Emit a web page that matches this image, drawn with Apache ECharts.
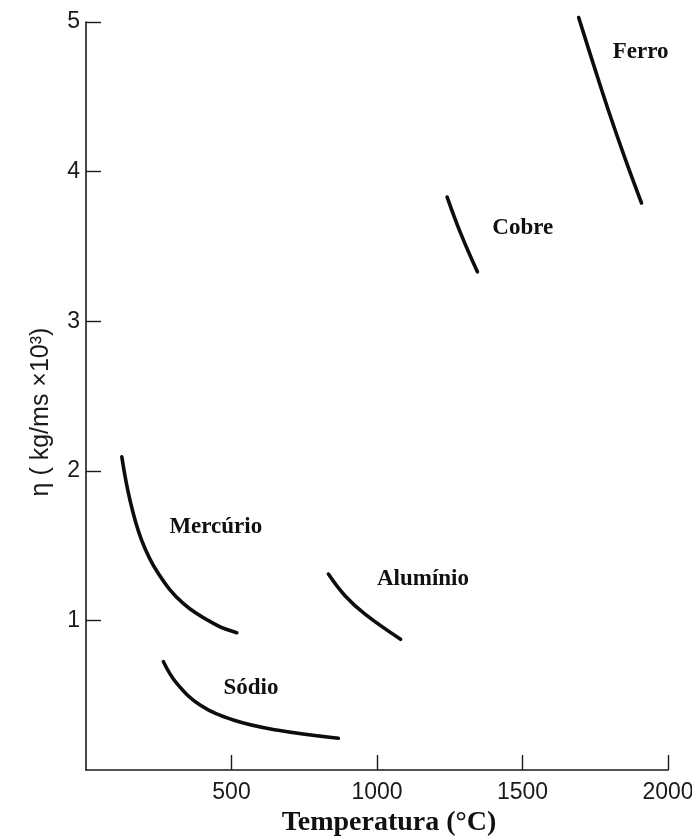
<!DOCTYPE html>
<html>
<head>
<meta charset="utf-8">
<script src="https://cdn.jsdelivr.net/npm/echarts@6/dist/echarts.min.js"></script>
<style>
  html, body { margin: 0; padding: 0; background: #fff; }
  #chart { width: 692px; height: 840px; }
</style>
</head>
<body>
<div id="chart"></div>
<script>
// Viscosity of liquid metals vs temperature
const xTicks = [500, 1000, 1500, 2000];
const yTicks = [1, 2, 3, 4, 5];

const ferroT = [1693, 1745, 1795, 1852, 1909];
const ferroEta = [5.03, 4.71, 4.41, 4.09, 3.79];

const cobreT = [1241, 1289, 1345];
const cobreEta = [3.83, 3.58, 3.33];

const mercurioT = [123, 151, 191, 248, 334, 449, 518];
const mercurioEta = [2.094, 1.805, 1.537, 1.315, 1.114, 0.968, 0.918];

const aluminioT = [833, 890, 960, 1081];
const aluminioEta = [1.310, 1.165, 1.040, 0.874];

const sodioT = [266, 312, 392, 506, 655, 867];
const sodioEta = [0.724, 0.579, 0.435, 0.334, 0.267, 0.212];

// label anchors, in data units (temperature, viscosity)
const metalNames = ['Ferro', 'Cobre', 'Mercúrio', 'Alumínio', 'Sódio'];
const labelT = [1906, 1501, 446, 1158, 567];
const labelEta = [4.80, 3.625, 1.625, 1.278, 0.548];

const pairs = (xs, ys) => xs.map((x, i) => [x, ys[i]]);

const curves = [
  pairs(ferroT, ferroEta),
  pairs(cobreT, cobreEta),
  pairs(mercurioT, mercurioEta),
  pairs(aluminioT, aluminioEta),
  pairs(sodioT, sodioEta)
];

const chart = echarts.init(document.getElementById('chart'), null, { renderer: 'canvas' });

const axisLine = { show: true, lineStyle: { color: '#1a1a1a', width: 1.6 } };
const tickLabel = { fontFamily: 'Liberation Sans', fontSize: 23, color: '#1a1a1a' };

const option = {
  backgroundColor: '#ffffff',
  animation: false,
  grid: { left: 86, right: 24, top: 22, bottom: 70, containLabel: false, outerBoundsMode: 'none' },
  xAxis: {
    type: 'value',
    min: 0, max: 2000, interval: 500,
    axisLine: axisLine,
    axisTick: { show: true, inside: true, length: 15, lineStyle: { color: '#1a1a1a', width: 1.4 } },
    axisLabel: Object.assign({ margin: 11, showMinLabel: false,
      formatter: v => (xTicks.indexOf(v) >= 0 ? String(v) : '') }, tickLabel),
    splitLine: { show: false },
    name: 'Temperatura (°C)',
    nameLocation: 'middle',
    nameGap: 38,
    nameTextStyle: { fontFamily: 'Liberation Serif', fontWeight: 'bold', fontSize: 28, color: '#111',
      padding: [0, 0, 0, 24] }
  },
  yAxis: {
    type: 'value',
    min: 0, max: 5, interval: 1,
    axisLine: axisLine,
    axisTick: { show: true, inside: true, length: 15, lineStyle: { color: '#1a1a1a', width: 1.4 } },
    axisLabel: Object.assign({ margin: 6, showMinLabel: false,
      formatter: v => (yTicks.indexOf(v) >= 0 ? String(v) : '') }, tickLabel),
    splitLine: { show: false }
  },
  series: curves.map((pts, i) => ({
    name: metalNames[i],
    type: 'line',
    data: pts,
    smooth: 0.4,
    clip: false,
    showSymbol: false,
    symbol: 'none',
    lineStyle: { color: '#0d0d0d', width: 3.6, cap: 'round', join: 'round' }
  }))
};

chart.setOption(option);

// curve names and the rotated y-axis title
const graphics = metalNames.map((name, i) => {
  const p = chart.convertToPixel({ gridIndex: 0 }, [labelT[i], labelEta[i]]);
  return {
    type: 'text',
    x: p[0], y: p[1],
    style: {
      text: name,
      font: 'bold 23px "Liberation Serif"',
      fill: '#111',
      textAlign: 'center',
      textVerticalAlign: 'middle'
    }
  };
});
graphics.push({
  type: 'text',
  x: 41, y: 412,
  rotation: Math.PI / 2,
  style: {
    text: 'η ( kg/ms ×10³)',
    font: '25px "Liberation Sans"',
    fill: '#1a1a1a',
    textAlign: 'center',
    textVerticalAlign: 'middle'
  }
});
chart.setOption({ graphic: graphics });
</script>
</body>
</html>
